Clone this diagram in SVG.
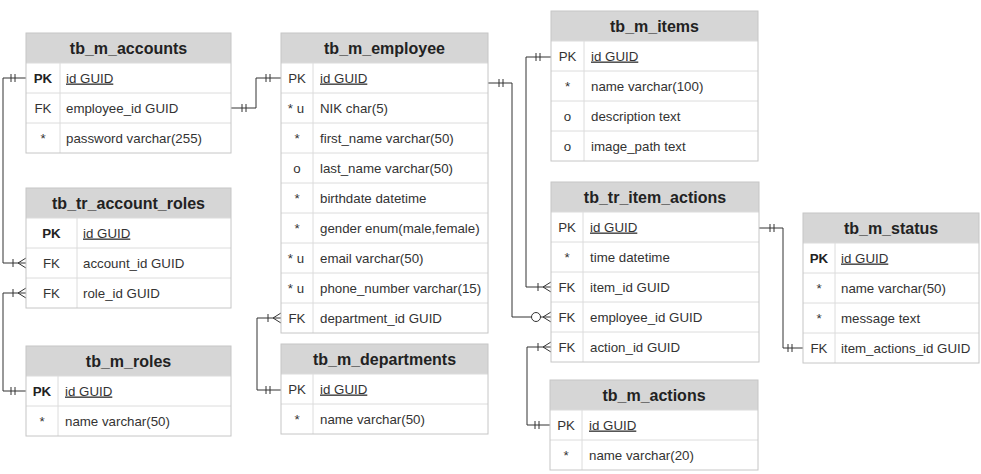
<svg xmlns="http://www.w3.org/2000/svg" width="981" height="474" viewBox="0 0 981 474">
<style>
.hd{fill:#d6d6d6;stroke:none}
.bd{fill:#ffffff;stroke:none}
.sep{fill:none;stroke:#dcdcdc;stroke-width:1}
.ol{fill:none;stroke:#c6c6c6;stroke-width:1}
text{font-family:"Liberation Sans",Arial,sans-serif;fill:#333333}
.ht{font-size:16px;font-weight:bold;text-anchor:middle;fill:#222222}
.k{font-size:13.3px;text-anchor:middle}
.f{font-size:13.3px}
.b{font-weight:bold;fill:#222222}
.u{text-decoration:underline}
.cn{fill:none;stroke:#333333;stroke-width:1}
</style>
<defs>
<marker id="mOne" markerUnits="userSpaceOnUse" markerWidth="24" markerHeight="20" viewBox="-20 -10 24 20" refX="0" refY="0" orient="auto-start-reverse" overflow="visible">
<path d="M-11,-4V4M-15,-4V4" fill="none" stroke="#333333" stroke-width="1"/>
</marker>
<marker id="mMany" markerUnits="userSpaceOnUse" markerWidth="24" markerHeight="20" viewBox="-20 -10 24 20" refX="0" refY="0" orient="auto-start-reverse" overflow="visible">
<path d="M-13,-4V4M0,-5L-8,0L0,5" fill="none" stroke="#333333" stroke-width="1"/>
</marker>
<marker id="mZero" markerUnits="userSpaceOnUse" markerWidth="24" markerHeight="20" viewBox="-20 -10 24 20" refX="0" refY="0" orient="auto-start-reverse" overflow="visible">
<circle cx="-15" cy="0" r="4.5" fill="#ffffff" stroke="#333333" stroke-width="1"/>
<path d="M0,-5L-8,0L0,5" fill="none" stroke="#333333" stroke-width="1"/>
</marker>
</defs>
<rect x="0" y="0" width="981" height="474" fill="#ffffff"/>

<g id="connectors">
<path class="cn" d="M26,78H3V263H26" marker-start="url(#mOne)" marker-end="url(#mMany)"/>
<path class="cn" d="M26,293H3V391H26" marker-start="url(#mMany)" marker-end="url(#mOne)"/>
<path class="cn" d="M231,108H256V78H281" marker-start="url(#mOne)" marker-end="url(#mOne)"/>
<path class="cn" d="M281,318H257V390H281" marker-start="url(#mMany)" marker-end="url(#mOne)"/>
<path class="cn" d="M488,83H512V317H551" marker-start="url(#mOne)" marker-end="url(#mZero)"/>
<path class="cn" d="M551,57H526V287H551" marker-start="url(#mOne)" marker-end="url(#mMany)"/>
<path class="cn" d="M551,347H527V425H550" marker-start="url(#mMany)" marker-end="url(#mOne)"/>
<path class="cn" d="M759,228H783V348H803" marker-start="url(#mOne)" marker-end="url(#mOne)"/>
</g>

<g id="tb_m_accounts">
<rect class="hd" x="26" y="33" width="205" height="30"/>
<rect class="bd" x="26" y="63" width="205" height="90"/>
<path class="sep" d="M26,63H231M26,93H231M26,123H231M60,63V153"/>
<rect class="ol" x="26" y="33" width="205" height="120"/>
<text class="ht" x="128.5" y="53.5">tb_m_accounts</text>
<text class="k b" x="43" y="82.5">PK</text><text class="f u" x="66" y="82.5">id GUID</text>
<text class="k" x="43" y="112.5">FK</text><text class="f" x="66" y="112.5">employee_id GUID</text>
<text class="k" x="43" y="142.5">*</text><text class="f" x="66" y="142.5">password varchar(255)</text>
</g>

<g id="tb_tr_account_roles">
<rect class="hd" x="26" y="188" width="205" height="30"/>
<rect class="bd" x="26" y="218" width="205" height="90"/>
<path class="sep" d="M26,218H231M26,248H231M26,278H231M77,218V308"/>
<rect class="ol" x="26" y="188" width="205" height="120"/>
<text class="ht" x="128.5" y="208.5">tb_tr_account_roles</text>
<text class="k b" x="51.5" y="237.5">PK</text><text class="f u" x="83" y="237.5">id GUID</text>
<text class="k" x="51.5" y="267.5">FK</text><text class="f" x="83" y="267.5">account_id GUID</text>
<text class="k" x="51.5" y="297.5">FK</text><text class="f" x="83" y="297.5">role_id GUID</text>
</g>

<g id="tb_m_roles">
<rect class="hd" x="26" y="346" width="205" height="30"/>
<rect class="bd" x="26" y="376" width="205" height="60"/>
<path class="sep" d="M26,376H231M26,406H231M58,376V436"/>
<rect class="ol" x="26" y="346" width="205" height="90"/>
<text class="ht" x="128.5" y="366.5">tb_m_roles</text>
<text class="k b" x="42" y="395.5">PK</text><text class="f u" x="65" y="395.5">id GUID</text>
<text class="k" x="42" y="425.5">*</text><text class="f" x="65" y="425.5">name varchar(50)</text>
</g>

<g id="tb_m_employee">
<rect class="hd" x="281" y="33" width="207" height="30"/>
<rect class="bd" x="281" y="63" width="207" height="270"/>
<path class="sep" d="M281,63H488M281,93H488M281,123H488M281,153H488M281,183H488M281,213H488M281,243H488M281,273H488M281,303H488M313,63V333"/>
<rect class="ol" x="281" y="33" width="207" height="300"/>
<text class="ht" x="384.5" y="53.5">tb_m_employee</text>
<text class="k" x="297" y="82.5">PK</text><text class="f u" x="320" y="82.5">id GUID</text>
<text class="k" x="296" y="112.5">* u</text><text class="f" x="320" y="112.5">NIK char(5)</text>
<text class="k" x="297" y="142.5">*</text><text class="f" x="320" y="142.5">first_name varchar(50)</text>
<text class="k" x="297" y="172.5">o</text><text class="f" x="320" y="172.5">last_name varchar(50)</text>
<text class="k" x="297" y="202.5">*</text><text class="f" x="320" y="202.5">birthdate datetime</text>
<text class="k" x="297" y="232.5">*</text><text class="f" x="320" y="232.5">gender enum(male,female)</text>
<text class="k" x="296" y="262.5">* u</text><text class="f" x="320" y="262.5">email varchar(50)</text>
<text class="k" x="296" y="292.5">* u</text><text class="f" x="320" y="292.5">phone_number varchar(15)</text>
<text class="k" x="297" y="322.5">FK</text><text class="f" x="320" y="322.5">department_id GUID</text>
</g>

<g id="tb_m_departments">
<rect class="hd" x="281" y="344" width="207" height="30"/>
<rect class="bd" x="281" y="374" width="207" height="60"/>
<path class="sep" d="M281,374H488M281,404H488M313,374V434"/>
<rect class="ol" x="281" y="344" width="207" height="90"/>
<text class="ht" x="384.5" y="364.5">tb_m_departments</text>
<text class="k" x="297" y="393.5">PK</text><text class="f u" x="320" y="393.5">id GUID</text>
<text class="k" x="297" y="423.5">*</text><text class="f" x="320" y="423.5">name varchar(50)</text>
</g>

<g id="tb_m_items">
<rect class="hd" x="551" y="11" width="207" height="30"/>
<rect class="bd" x="551" y="41" width="207" height="120"/>
<path class="sep" d="M551,41H758M551,71H758M551,101H758M551,131H758M584,41V161"/>
<rect class="ol" x="551" y="11" width="207" height="150"/>
<text class="ht" x="654.5" y="31.5">tb_m_items</text>
<text class="k" x="567.5" y="60.5">PK</text><text class="f u" x="591" y="60.5">id GUID</text>
<text class="k" x="567.5" y="90.5">*</text><text class="f" x="591" y="90.5">name varchar(100)</text>
<text class="k" x="567.5" y="120.5">o</text><text class="f" x="591" y="120.5">description text</text>
<text class="k" x="567.5" y="150.5">o</text><text class="f" x="591" y="150.5">image_path text</text>
</g>

<g id="tb_tr_item_actions">
<rect class="hd" x="551" y="182" width="208" height="30"/>
<rect class="bd" x="551" y="212" width="208" height="150"/>
<path class="sep" d="M551,212H759M551,242H759M551,272H759M551,302H759M551,332H759M583,212V362"/>
<rect class="ol" x="551" y="182" width="208" height="180"/>
<text class="ht" x="655" y="202.5">tb_tr_item_actions</text>
<text class="k" x="567" y="231.5">PK</text><text class="f u" x="590" y="231.5">id GUID</text>
<text class="k" x="567" y="261.5">*</text><text class="f" x="590" y="261.5">time datetime</text>
<text class="k" x="567" y="291.5">FK</text><text class="f" x="590" y="291.5">item_id GUID</text>
<text class="k" x="567" y="321.5">FK</text><text class="f" x="590" y="321.5">employee_id GUID</text>
<text class="k" x="567" y="351.5">FK</text><text class="f" x="590" y="351.5">action_id GUID</text>
</g>

<g id="tb_m_actions">
<rect class="hd" x="550" y="380" width="208" height="30"/>
<rect class="bd" x="550" y="410" width="208" height="60"/>
<path class="sep" d="M550,410H758M550,440H758M582,410V470"/>
<rect class="ol" x="550" y="380" width="208" height="90"/>
<text class="ht" x="654" y="400.5">tb_m_actions</text>
<text class="k" x="566" y="429.5">PK</text><text class="f u" x="589" y="429.5">id GUID</text>
<text class="k" x="566" y="459.5">*</text><text class="f" x="589" y="459.5">name varchar(20)</text>
</g>

<g id="tb_m_status">
<rect class="hd" x="803" y="213" width="176" height="30"/>
<rect class="bd" x="803" y="243" width="176" height="120"/>
<path class="sep" d="M803,243H979M803,273H979M803,303H979M803,333H979M835,243V363"/>
<rect class="ol" x="803" y="213" width="176" height="150"/>
<text class="ht" x="891" y="233.5">tb_m_status</text>
<text class="k b" x="819" y="262.5">PK</text><text class="f u" x="841" y="262.5">id GUID</text>
<text class="k" x="819" y="292.5">*</text><text class="f" x="841" y="292.5">name varchar(50)</text>
<text class="k" x="819" y="322.5">*</text><text class="f" x="841" y="322.5">message text</text>
<text class="k" x="819" y="352.5">FK</text><text class="f" x="841" y="352.5">item_actions_id GUID</text>
</g>
</svg>
